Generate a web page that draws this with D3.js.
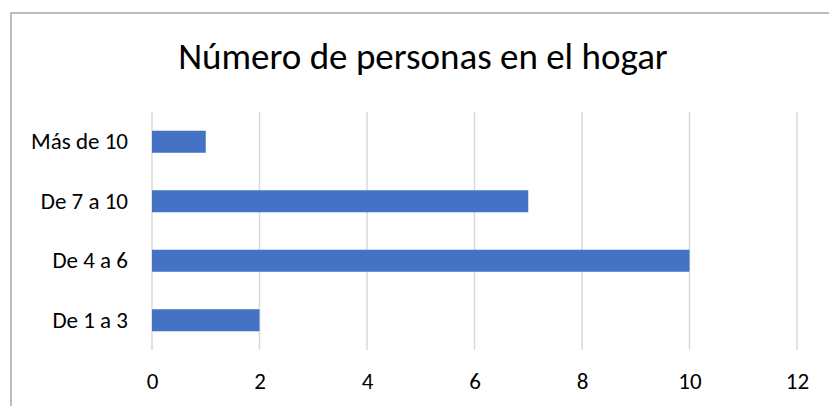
<!DOCTYPE html>
<html>
<head>
<meta charset="utf-8">
<script src="https://cdn.jsdelivr.net/npm/d3@7"></script>
<style>
  body { margin: 0; background: #fff; }
  svg text { font-family: Carlito, Calibri, Lato, sans-serif; fill: #000; }
</style>
</head>
<body>
<div id="chart"></div>
<script>
// data
var categories = ["De 1 a 3", "De 4 a 6", "De 7 a 10", "Más de 10"];
var values = [2, 10, 7, 1];
var xTicks = [0, 2, 4, 6, 8, 10, 12];
var title = "Número de personas en el hogar";

var W = 829, H = 406;
var margin = { top: 112, right: 32, bottom: 56, left: 152 },
    width = 797 - margin.left,
    height = 350 - margin.top;

var svg = d3.select("#chart")
    .append("svg")
    .attr("width", W)
    .attr("height", H);

// outer chart border (cut at right and bottom)
svg.append("rect")
    .attr("x", 11).attr("y", 13)
    .attr("width", 900).attr("height", 500)
    .attr("fill", "none")
    .attr("stroke", "#a6a6a6")
    .attr("stroke-width", 1.5);

svg.append("text")
    .attr("x", 423)
    .attr("y", 69)
    .attr("text-anchor", "middle")
    .style("font-size", "37px")
    .text(title);

var g = svg.append("g")
    .attr("transform", "translate(" + margin.left + "," + margin.top + ")");

var x = d3.scaleLinear()
    .domain([0, 12])
    .range([0, width]);

var y = d3.scaleBand()
    .domain(categories.slice().reverse())
    .range([0, height])
    .paddingInner(0.63)
    .paddingOuter(0.315);

// gridlines
g.selectAll(".grid")
    .data(xTicks)
    .enter()
    .append("line")
    .attr("x1", function (d) { return x(d); })
    .attr("x2", function (d) { return x(d); })
    .attr("y1", 0)
    .attr("y2", height)
    .attr("stroke", "#d9d9d9")
    .attr("stroke-width", 1.5);

// X axis labels
var xAxis = g.append("g")
    .attr("transform", "translate(0," + height + ")")
    .call(d3.axisBottom(x).tickValues(xTicks).tickSize(0).tickPadding(23));
xAxis.select(".domain").remove();
xAxis.selectAll("text").style("font-size", "23px");

// Y axis labels
var yAxis = g.append("g")
    .call(d3.axisLeft(y).tickSize(0).tickPadding(24));
yAxis.select(".domain").remove();
yAxis.selectAll("text").style("font-size", "23px");

// Bars
g.selectAll(".bar")
    .data(categories)
    .enter()
    .append("rect")
    .attr("x", x(0))
    .attr("y", function (d) { return y(d); })
    .attr("width", function (d, i) { return x(values[i]) - x(0); })
    .attr("height", y.bandwidth())
    .attr("fill", "#4472c4");
</script>
</body>
</html>
